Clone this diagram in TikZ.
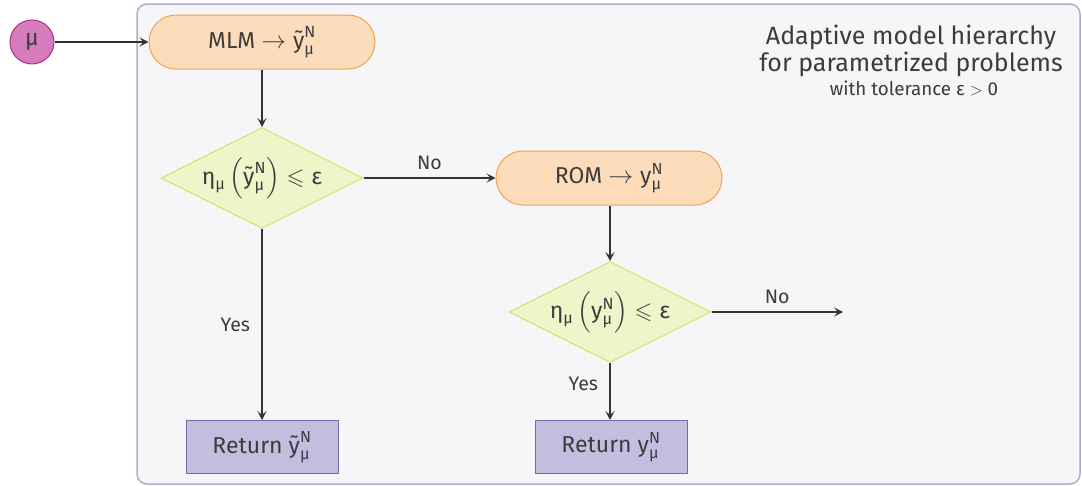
\documentclass[tikz,border=0pt]{standalone}
\usepackage{amsmath,amssymb}
\usepackage{fontspec}
\setmainfont{Fira Sans}
\usetikzlibrary{shapes.geometric,arrows.meta}
\definecolor{txt}{HTML}{3C3C3C}
\definecolor{bgfill}{HTML}{F6F6F9}
\definecolor{bgline}{HTML}{B8AACC}
\definecolor{orfill}{HTML}{FDDCBC}
\definecolor{orline}{HTML}{F4A150}
\definecolor{grfill}{HTML}{EEF5C8}
\definecolor{grline}{HTML}{D4E36E}
\definecolor{pufill}{HTML}{C5BDDF}
\definecolor{puline}{HTML}{7A6BA8}
\definecolor{pkfill}{HTML}{D67BBB}
\definecolor{pkline}{HTML}{B0328A}
\newcommand\tm[1]{\text{#1}}
\newcommand\ytN{\tm{ỹ}^{\tm{N}}_{\tm{μ}}}
\newcommand\yN{\tm{y}^{\tm{N}}_{\tm{μ}}}
\newcommand\zw[1]{\makebox[0pt]{#1}}
\tikzset{
  base/.style={text=txt, font=\fontsize{23}{27}\selectfont, line width=1pt},
  stadium/.style={base, draw=orline, fill=orfill, rounded corners=27pt, minimum width=226pt, minimum height=54pt, inner sep=0pt},
  decision/.style={base, diamond, aspect=2, draw=grline, fill=grfill, minimum width=202pt, minimum height=101pt, inner sep=0pt},
  retbox/.style={base, draw=puline, fill=pufill, minimum width=152pt, minimum height=53pt, inner sep=0pt},
  conn/.style={draw=black!80, line width=1.4pt, -{Stealth[length=9pt,width=9pt,inset=4pt]}},
  lbl/.style={text=txt, font=\fontsize{19.5}{23}\selectfont},
}
\begin{document}
\begin{tikzpicture}[x=1pt,y=-1pt]
\useasboundingbox (0,0) rectangle (1082,485);
\draw[draw=bgline, fill=bgfill, line width=1.5pt, rounded corners=10pt] (137,4) rectangle (1080,484);
\node[base, circle, draw=pkline, fill=pkfill, minimum size=44pt, inner sep=0pt] (mu) at (32,42) {$\tm{μ}$};
\node[stadium] (mlm) at (262,42) {MLM $\to \ytN$};
\node[decision] (d1) at (262,178) {\zw{$\tm{η}_{\tm{μ}}\left(\ytN\right) \leqslant \tm{ε}$}};
\node[stadium] (rom) at (609,178) {ROM $\to \yN$};
\node[decision] (d2) at (610,312) {\zw{$\tm{η}_{\tm{μ}}\left(\yN\right) \leqslant \tm{ε}$}};
\node[retbox] (r1) at (262,447) {Return $\ytN$};
\node[retbox] (r2) at (611,447) {Return $\yN$};
\coordinate (out) at (843,312);
\node[text=txt, align=center, font=\fontsize{25}{27}\selectfont] (title) at (911,51) {Adaptive model hierarchy\\for parametrized problems};
\node[text=txt, font=\fontsize{18.8}{21}\selectfont] (sub) at (914,88) {with tolerance $\tm{ε} > \tm{0}$};
\draw[conn] (mu) -- (mlm);
\draw[conn] (mlm) -- (d1);
\draw[conn] (d1) -- node[lbl, above=4pt] {No} (rom);
\draw[conn] (rom.south -| d2) -- (d2);
\draw[conn] (d2) -- node[lbl, above=4pt] {No} (out);
\draw[conn] (d1) -- node[lbl, left=8pt, pos=0.5] {Yes} (r1);
\draw[conn] (d2.south) -- node[lbl, left=8pt, pos=0.37] {Yes} (d2.south |- r2.north);
\end{tikzpicture}
\end{document}
